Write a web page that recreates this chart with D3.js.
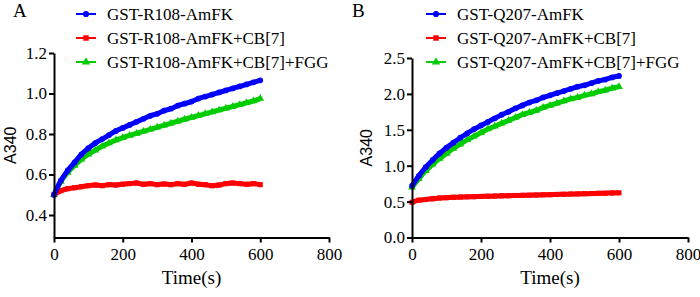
<!DOCTYPE html>
<html>
<head>
<meta charset="utf-8">
<script src="https://cdn.jsdelivr.net/npm/d3@7"></script>
<style>
  body { margin: 0; background: #fff; }
  svg { display: block; }
</style>
</head>
<body>
<div id="chart"></div>
<script>
// sample times (s)
const times = [0, 20, 40, 60, 80, 100, 120, 140, 160, 180, 200, 220, 240, 260, 280, 300,
               320, 340, 360, 380, 400, 420, 440, 460, 480, 500, 520, 540, 560, 580, 600];

// panel A: GST-R108-AmFK
const r108 = [0.50, 0.57, 0.62, 0.66, 0.70, 0.73, 0.755, 0.775, 0.795, 0.815, 0.83,
              0.845, 0.86, 0.875, 0.89, 0.90, 0.915, 0.925, 0.94, 0.95, 0.96,
              0.975, 0.985, 0.995, 1.005, 1.015, 1.025, 1.035, 1.045, 1.055, 1.065];
const r108CB = [0.50, 0.52, 0.53, 0.535, 0.54, 0.545, 0.548, 0.545, 0.55, 0.548, 0.552,
                0.555, 0.558, 0.552, 0.555, 0.55, 0.553, 0.55, 0.555, 0.552, 0.558,
                0.552, 0.55, 0.545, 0.548, 0.555, 0.558, 0.555, 0.552, 0.555, 0.55];
const r108CBFGG = [0.50, 0.565, 0.61, 0.645, 0.675, 0.70, 0.72, 0.74, 0.755, 0.77, 0.782,
                   0.793, 0.803, 0.813, 0.823, 0.833, 0.843, 0.853, 0.863, 0.873, 0.882,
                   0.891, 0.90, 0.909, 0.918, 0.927, 0.936, 0.945, 0.954, 0.963, 0.975];

// panel B: GST-Q207-AmFK
const q207 = [0.72, 0.86, 0.98, 1.08, 1.17, 1.25, 1.32, 1.39, 1.45, 1.51, 1.56,
              1.61, 1.66, 1.71, 1.75, 1.80, 1.84, 1.88, 1.91, 1.95, 1.98,
              2.01, 2.04, 2.07, 2.10, 2.12, 2.15, 2.18, 2.20, 2.23, 2.25];
const q207CB = [0.49, 0.52, 0.53, 0.54, 0.55, 0.555, 0.56, 0.563, 0.566, 0.569, 0.572,
                0.575, 0.577, 0.58, 0.582, 0.585, 0.587, 0.59, 0.592, 0.595, 0.597,
                0.60, 0.602, 0.605, 0.607, 0.61, 0.612, 0.615, 0.617, 0.62, 0.622];
const q207CBFGG = [0.70, 0.82, 0.93, 1.02, 1.10, 1.17, 1.24, 1.30, 1.36, 1.41, 1.46,
                   1.51, 1.55, 1.59, 1.63, 1.67, 1.71, 1.74, 1.77, 1.81, 1.84,
                   1.87, 1.90, 1.93, 1.95, 1.98, 2.00, 2.03, 2.05, 2.08, 2.10];

const xTicks = [0, 200, 400, 600, 800];
const yTicksA = [0.4, 0.6, 0.8, 1.0, 1.2];
const yTicksB = [0.0, 0.5, 1.0, 1.5, 2.0, 2.5];

const namesA = ["GST-R108-AmFK", "GST-R108-AmFK+CB[7]", "GST-R108-AmFK+CB[7]+FGG"];
const namesB = ["GST-Q207-AmFK", "GST-Q207-AmFK+CB[7]", "GST-Q207-AmFK+CB[7]+FGG"];
const colors = ["#0000ff", "#ff0000", "#00cc00"];
const shapes = [d3.symbolCircle, d3.symbolSquare, d3.symbolTriangle];

const serif = "'Liberation Serif', 'Times New Roman', serif";

const svg = d3.select("#chart").append("svg")
    .attr("width", 700)
    .attr("height", 297);

function styleAxis(a) {
    a.select(".domain").attr("stroke", "#000").attr("stroke-width", 2);
    a.selectAll(".tick line").attr("stroke", "#000").attr("stroke-width", 2);
    a.selectAll(".tick text")
        .attr("fill", "#000")
        .style("font-family", serif)
        .style("font-size", "17px");
}

function drawPanel(opt) {
    const g = svg.append("g");

    const x = d3.scaleLinear().domain([0, 800]).range([opt.left, opt.right]);
    const y = d3.scaleLinear().domain(opt.yDomain).range([237.5, opt.top]);

    // series: green first, then red, blue on top
    const order = [2, 1, 0];
    const line = d3.line()
        .x(d => x(d[0]))
        .y(d => y(d[1]))
        .curve(d3.curveMonotoneX);

    order.forEach(i => {
        const pts = times.map((t, j) => [t, opt.series[i][j]]);
        g.append("path")
            .datum(pts)
            .attr("fill", "none")
            .attr("stroke", colors[i])
            .attr("stroke-width", 5)
            .attr("d", line);
        g.selectAll(null)
            .data(pts)
            .join("path")
            .attr("transform", d => `translate(${x(d[0])},${y(d[1])})`)
            .attr("d", d3.symbol().type(shapes[i]).size(26))
            .attr("fill", colors[i]);
    });

    g.append("g")
        .attr("transform", `translate(0,237.5)`)
        .call(d3.axisBottom(x).tickValues(xTicks).tickSize(5).tickSizeOuter(0).tickPadding(4))
        .call(styleAxis)
        .call(a => a.selectAll(".tick text").attr("dy", "0.8em"));

    g.append("g")
        .attr("transform", `translate(${opt.left},0)`)
        .call(d3.axisLeft(y).tickValues(opt.yTicks).tickFormat(d3.format(".1f"))
            .tickSize(5).tickSizeOuter(0).tickPadding(2))
        .call(styleAxis);

    g.append("text")
        .attr("x", (opt.left + opt.right) / 2)
        .attr("y", 284)
        .attr("text-anchor", "middle")
        .style("font-family", serif)
        .style("font-size", "19px")
        .text("Time(s)");

    g.append("text")
        .attr("transform", `translate(${opt.yLabelX},${(237.5 + opt.top) / 2}) rotate(-90)`)
        .attr("text-anchor", "middle")
        .attr("dy", "0.35em")
        .style("font-family", "'Liberation Sans', Arial, sans-serif")
        .style("font-size", "16px")
        .text("A340");

    g.append("text")
        .attr("x", opt.labelX)
        .attr("y", 17)
        .style("font-family", serif)
        .style("font-size", "19px")
        .text(opt.label);

    // legend
    const leg = g.append("g").attr("transform", `translate(${opt.legendX},0)`);
    opt.names.forEach((name, i) => {
        const yy = 14 + i * 24;
        leg.append("line")
            .attr("x1", 0).attr("x2", 20)
            .attr("y1", yy).attr("y2", yy)
            .attr("stroke", colors[i])
            .attr("stroke-width", 2);
        leg.append("path")
            .attr("transform", `translate(10,${yy})`)
            .attr("d", d3.symbol().type(shapes[i]).size(30))
            .attr("fill", colors[i]);
        leg.append("text")
            .attr("x", 31)
            .attr("y", yy)
            .attr("dy", "0.35em")
            .style("font-family", serif)
            .style("font-size", "17px")
            .text(name);
    });
}

drawPanel({
    left: 54, right: 329, top: 53,
    yDomain: [0.289, 1.2], yTicks: yTicksA,
    series: [r108, r108CB, r108CBFGG],
    names: namesA, label: "A", labelX: 13, yLabelX: 10, legendX: 76
});

drawPanel({
    left: 412, right: 688, top: 58,
    yDomain: [0, 2.5], yTicks: yTicksB,
    series: [q207, q207CB, q207CBFGG],
    names: namesB, label: "B", labelX: 352, yLabelX: 366, legendX: 426
});
</script>
</body>
</html>
